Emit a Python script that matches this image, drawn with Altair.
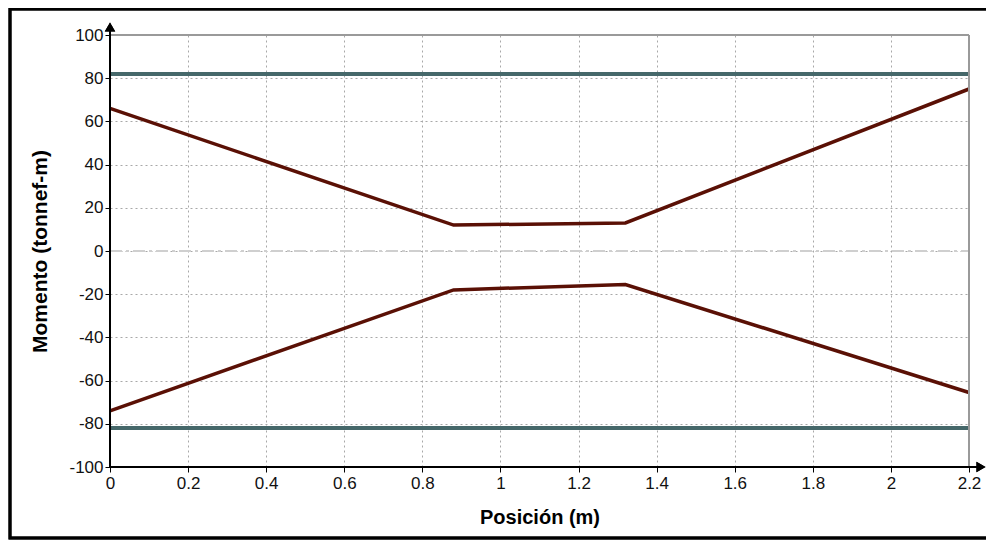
import altair as alt
import pandas as pd

# ---- data ----
positions = [0.0, 0.88, 1.32, 2.2]
upper_moment = [66, 12, 13, 75]
lower_moment = [-74, -18, -15.5, -65.5]
limit_pos = 82
limit_neg = -82
x_ticks = [0, 0.2, 0.4, 0.6, 0.8, 1, 1.2, 1.4, 1.6, 1.8, 2, 2.2]
y_ticks = [-100, -80, -60, -40, -20, 0, 20, 40, 60, 80, 100]

W, H = 859, 432
FONT = "Liberation Sans"

rows = []
for p, u in zip(positions, upper_moment):
    rows.append({"pos": p, "mom": u, "serie": "sup"})
for p, l in zip(positions, lower_moment):
    rows.append({"pos": p, "mom": l, "serie": "inf"})
df = pd.DataFrame(rows)
lim_df = pd.DataFrame({"lim": [limit_pos, limit_neg]})

xscale = alt.Scale(domain=[0, 2.2], nice=False, zero=False)
yscale = alt.Scale(domain=[-100, 100], nice=False)

x_axis = alt.Axis(values=x_ticks, labelExpr="'' + datum.value", title="Posición (m)",
                  grid=True, gridDash=[2, 3], gridColor="#a8a8a8", gridWidth=1,
                  domain=False, tickColor="#000", tickSize=5, labelPadding=3,
                  labelFlush=False, labelOverlap=False,
                  labelFont=FONT, labelFontSize=17, labelColor="#111",
                  titleFont=FONT, titleFontSize=20, titleFontWeight="bold",
                  titleColor="#000", titlePadding=16)
y_axis = alt.Axis(values=y_ticks, labelExpr="'' + datum.value", title="Momento (tonnef-m)",
                  grid=True, gridDash=[2, 3], gridColor="#a8a8a8", gridWidth=1,
                  domain=False, tickColor="#000", tickSize=5, labelPadding=2,
                  labelFlush=False, labelOverlap=False,
                  labelFont=FONT, labelFontSize=17, labelColor="#111",
                  titleFont=FONT, titleFontSize=21, titleFontWeight="bold",
                  titleColor="#000", titlePadding=18)

base = alt.Chart(df)

grid_layer = base.mark_point(opacity=0).encode(
    x=alt.X("pos:Q", scale=xscale, axis=x_axis),
    y=alt.Y("mom:Q", scale=yscale, axis=y_axis),
)

zero_line = alt.Chart(lim_df).mark_rule(color="#cfcfcf", strokeWidth=2,
                                         strokeDash=[12, 4, 3, 4]).encode(
    y=alt.datum(0, scale=yscale), x=alt.value(0), x2=alt.value(W))

limits = alt.Chart(lim_df).mark_rule(color="#46686a", strokeWidth=4).encode(
    y=alt.Y("lim:Q", scale=yscale), x=alt.value(0), x2=alt.value(W))

lines = base.mark_line(color="#5a1005", strokeWidth=3.5).encode(
    x=alt.X("pos:Q", scale=xscale),
    y=alt.Y("mom:Q", scale=yscale),
    detail="serie:N",
)

# decorative frame & arrows
frame = alt.Chart(lim_df).mark_rect(fill=None, stroke="#000", strokeWidth=3).encode(
    x=alt.value(-100), x2=alt.value(900), y=alt.value(-26), y2=alt.value(503))
top_right = alt.Chart(lim_df).mark_rule(color="#9a9a9a", strokeWidth=2).encode(
    x=alt.value(0), x2=alt.value(W), y=alt.value(0))
right_edge = alt.Chart(lim_df).mark_rule(color="#9a9a9a", strokeWidth=2).encode(
    x=alt.value(W), y=alt.value(0), y2=alt.value(H))
y_axis_line = alt.Chart(lim_df).mark_rule(color="#000", strokeWidth=2).encode(
    x=alt.value(0), y=alt.value(-6), y2=alt.value(H))
x_axis_line = alt.Chart(lim_df).mark_rule(color="#000", strokeWidth=2).encode(
    x=alt.value(0), x2=alt.value(W + 12), y=alt.value(H))
y_arrow = alt.Chart(lim_df).mark_point(shape="triangle-up", filled=True, color="#000",
                                       size=110, opacity=1).encode(
    x=alt.value(0), y=alt.value(-8))
x_arrow = alt.Chart(lim_df).mark_point(shape="triangle-right", filled=True, color="#000",
                                       size=110, opacity=1).encode(
    x=alt.value(W + 12), y=alt.value(H))

chart = alt.layer(
    grid_layer, zero_line, limits, lines, top_right, right_edge,
    y_axis_line, x_axis_line, y_arrow, x_arrow, frame
).properties(
    width=W, height=H,
    autosize=alt.AutoSizeParams(type="none"),
    padding={"left": 102, "top": 27, "right": 17, "bottom": 73},
    background="white",
).configure_view(stroke=None)

chart.save("out.html", embed_options={"renderer": "svg", "actions": False})
